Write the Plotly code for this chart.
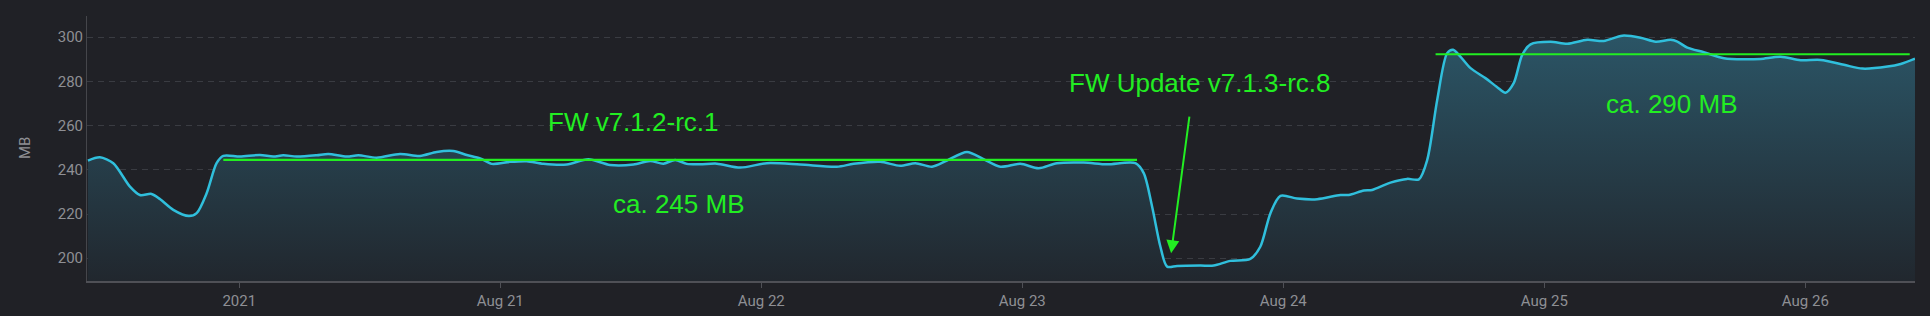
import plotly.graph_objects as go

# ---- data ----
times = [
    "2021-08-19 10:05", "2021-08-19 11:11", "2021-08-19 12:25", "2021-08-19 13:57", "2021-08-19 14:52",
    "2021-08-19 15:56", "2021-08-19 16:42", "2021-08-19 17:56", "2021-08-19 19:22", "2021-08-19 20:05",
    "2021-08-19 21:00", "2021-08-19 21:55", "2021-08-19 22:32", "2021-08-20 00:04", "2021-08-20 01:54",
    "2021-08-20 03:08", "2021-08-20 04:03", "2021-08-20 05:17", "2021-08-20 07:07", "2021-08-20 08:11",
    "2021-08-20 09:53", "2021-08-20 10:57", "2021-08-20 12:38", "2021-08-20 14:47", "2021-08-20 16:37",
    "2021-08-20 18:09", "2021-08-20 19:41", "2021-08-20 20:55", "2021-08-20 22:09", "2021-08-20 23:13",
    "2021-08-21 00:54", "2021-08-21 02:26", "2021-08-21 03:58", "2021-08-21 06:07", "2021-08-21 08:06",
    "2021-08-21 10:06", "2021-08-21 12:15", "2021-08-21 13:47", "2021-08-21 15:00", "2021-08-21 16:05",
    "2021-08-21 17:09", "2021-08-21 18:23", "2021-08-21 19:55", "2021-08-21 22:04", "2021-08-22 00:31",
    "2021-08-22 03:35", "2021-08-22 06:57", "2021-08-22 08:29", "2021-08-22 10:56", "2021-08-22 12:47",
    "2021-08-22 14:10", "2021-08-22 15:42", "2021-08-22 17:04", "2021-08-22 18:55", "2021-08-22 20:26",
    "2021-08-22 21:59", "2021-08-22 23:49", "2021-08-23 01:30", "2021-08-23 03:11", "2021-08-23 05:38",
    "2021-08-23 07:47", "2021-08-23 10:24", "2021-08-23 11:10", "2021-08-23 11:56", "2021-08-23 12:42",
    "2021-08-23 13:19", "2021-08-23 14:14", "2021-08-23 16:22", "2021-08-23 17:36", "2021-08-23 19:08",
    "2021-08-23 20:58", "2021-08-23 21:53", "2021-08-23 22:49", "2021-08-23 23:44", "2021-08-24 01:16",
    "2021-08-24 03:07", "2021-08-24 05:15", "2021-08-24 06:01", "2021-08-24 07:24", "2021-08-24 08:10",
    "2021-08-24 09:51", "2021-08-24 11:23", "2021-08-24 12:28", "2021-08-24 13:14", "2021-08-24 14:09",
    "2021-08-24 15:04", "2021-08-24 15:37", "2021-08-24 16:17", "2021-08-24 17:13", "2021-08-24 18:35",
    "2021-08-24 19:40", "2021-08-24 20:26", "2021-08-24 21:11", "2021-08-24 21:58", "2021-08-24 22:44",
    "2021-08-25 00:34", "2021-08-25 02:07", "2021-08-25 03:57", "2021-08-25 05:28", "2021-08-25 07:10",
    "2021-08-25 08:51", "2021-08-25 10:14", "2021-08-25 11:37", "2021-08-25 12:14", "2021-08-25 13:09",
    "2021-08-25 14:40", "2021-08-25 16:31", "2021-08-25 18:21", "2021-08-25 19:53", "2021-08-25 21:44",
    "2021-08-25 23:34", "2021-08-26 01:25", "2021-08-26 03:33", "2021-08-26 05:15", "2021-08-26 07:33",
    "2021-08-26 08:46", "2021-08-26 10:05",
]
memory_mb = [
    244.2, 245.7, 243.0, 232.4, 228.6,
    229.1, 226.8, 221.9, 219.1, 220.4,
    229.4, 243.0, 246.3, 246.0, 246.7,
    246.0, 246.6, 246.0, 246.6, 247.2,
    246.0, 246.6, 245.5, 247.2, 246.3,
    248.1, 248.5, 246.7, 245.2, 242.7,
    243.6, 243.9, 242.7, 242.4, 244.8,
    242.2, 242.4, 244.0, 242.8, 244.5,
    242.7, 242.5, 242.8, 241.0, 243.0,
    242.4, 241.4, 242.7, 243.6, 241.8,
    243.0, 241.4, 244.2, 248.1, 244.8,
    241.4, 242.7, 240.7, 243.0, 243.3,
    242.5, 243.0, 238.5, 223.4, 205.2,
    196.2, 196.5, 196.7, 196.7, 198.8,
    199.7, 205.2, 220.4, 228.2, 227.0,
    226.7, 228.6, 228.6, 230.6, 230.9,
    234.2, 235.9, 235.7, 244.5, 271.6,
    292.8, 294.3, 291.2, 286.0, 281.5,
    277.4, 274.9, 279.2, 292.0, 296.8,
    297.9, 297.0, 298.8, 298.3, 300.7,
    299.8, 298.0, 298.8, 298.0, 295.3,
    293.2, 290.5, 290.0, 290.2, 291.2,
    289.6, 289.7, 287.5, 285.8, 286.7,
    287.9, 290.3,
]

# reference levels (green lines)
level1_x = ["2021-08-19 22:32", "2021-08-23 10:33"]
level1_y = [244.5, 244.5]
level2_x = ["2021-08-24 14:00", "2021-08-26 09:36"]
level2_y = [292.3, 292.3]

# annotation texts
labels = [
    ("FW v7.1.2-rc.1", "2021-08-21 12:11", 261.8),
    ("ca. 245 MB", "2021-08-21 16:26", 224.6),
    ("FW Update v7.1.3-rc.8", "2021-08-23 16:22", 279.2),
    ("ca. 290 MB", "2021-08-25 11:42", 269.7),
]
arrow_tip = ("2021-08-23 13:41", 202.3)
arrow_tail = ("2021-08-23 15:23", 264.8)

tick_vals = ["2021-08-20", "2021-08-21", "2021-08-22", "2021-08-23",
             "2021-08-24", "2021-08-25", "2021-08-26"]
tick_text = ["2021", "Aug 21", "Aug 22", "Aug 23", "Aug 24", "Aug 25", "Aug 26"]
y_ticks = [200, 220, 240, 260, 280, 300]

X_RANGE = ["2021-08-19 10:00", "2021-08-26 10:05"]
Y_RANGE = [189.7, 309.6]

BG = "#202126"
GREEN = "#22ee22"
LINE = "#30bfdc"
TICK_FONT = dict(family="Roboto, sans-serif", size=15, color="#8e8f94")

ML, MR, MT, MB_ = 87, 15, 16, 35
W, H = 1930, 316

fig = go.Figure()

fig.add_trace(go.Scatter(
    x=times, y=memory_mb, mode="lines",
    line=dict(color=LINE, width=2.5, shape="spline", smoothing=0.8),
    fill="tozeroy",
    fillgradient=dict(type="vertical", start=Y_RANGE[0], stop=300.7,
                      colorscale=[[0, "#21272e"], [1, "#2b5566"]]),
    showlegend=False, hoverinfo="skip",
))

for lx, ly in ((level1_x, level1_y), (level2_x, level2_y)):
    fig.add_trace(go.Scatter(x=lx, y=ly, mode="lines",
                             line=dict(color=GREEN, width=2.2),
                             showlegend=False, hoverinfo="skip"))

for text, x, y in labels:
    fig.add_annotation(x=x, y=y, xref="x", yref="y", text=text, showarrow=False,
                       font=dict(family="Liberation Sans, Arial, sans-serif",
                                 size=26, color=GREEN))

fig.add_annotation(x=arrow_tip[0], y=arrow_tip[1], ax=arrow_tail[0], ay=arrow_tail[1],
                   xref="x", yref="y", axref="x", ayref="y", text="",
                   showarrow=True, arrowhead=2, arrowsize=1.3, arrowwidth=2,
                   arrowcolor=GREEN)

plot_w = W - ML - MR
plot_h = H - MT - MB_
fig.add_annotation(x=(25 - ML) / plot_w, y=(H - MB_ - 148) / plot_h,
                   xref="paper", yref="paper", text="MB",
                   showarrow=False, textangle=-90, xanchor="center", yanchor="middle",
                   font=TICK_FONT)

fig.update_layout(
    width=W, height=H,
    margin=dict(l=ML, r=MR, t=MT, b=MB_, autoexpand=False),
    paper_bgcolor=BG, plot_bgcolor=BG,
    xaxis=dict(type="date", range=X_RANGE, tickvals=tick_vals, ticktext=tick_text,
               automargin=False,
               showgrid=False, zeroline=False, showline=True, linecolor="#4f5056",
               linewidth=1.5, ticks="outside", ticklen=5, tickcolor="#4f5056",
               tickfont=TICK_FONT),
    yaxis=dict(range=Y_RANGE, tickvals=y_ticks, showgrid=True, gridcolor="#3a3c42",
               automargin=False,
               griddash="6px,5px", gridwidth=1, zeroline=False, showline=True,
               linecolor="#45464b", linewidth=1, ticks="", tickfont=TICK_FONT),
)

fig.write_html("out.html")
